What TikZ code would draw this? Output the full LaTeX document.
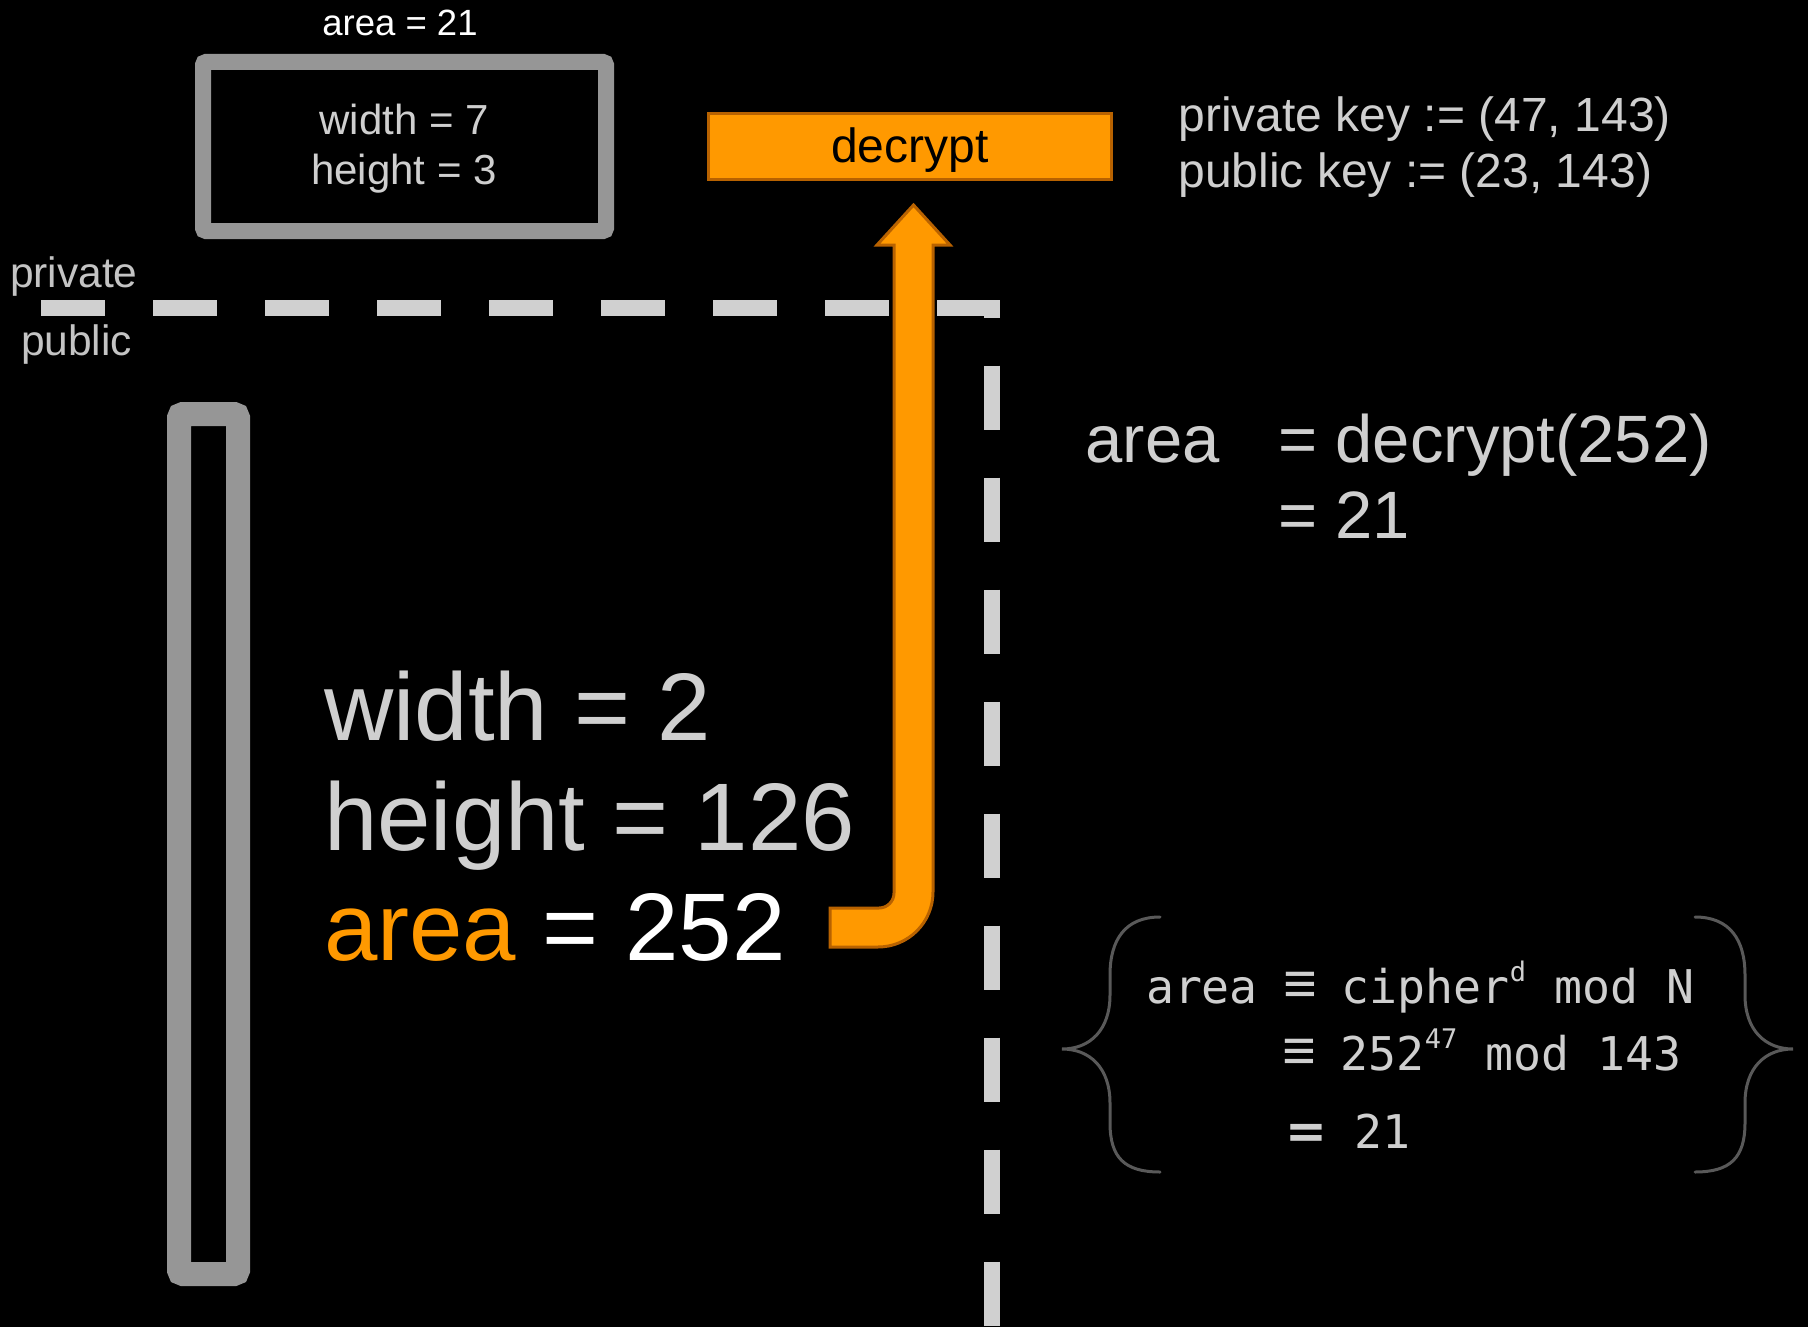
\documentclass[tikz,border=0pt]{standalone}
\usepackage{fontspec}
\setmainfont{Liberation Sans}
\newfontfamily\monofont{DejaVu Sans Mono}
\newfontfamily\symfont{DejaVu Sans}
\newfontfamily\thinsym{Liberation Sans}
\definecolor{lightgraytext}{HTML}{CFCFCF}
\definecolor{labelgray}{HTML}{C4C4C4}
\definecolor{framegray}{HTML}{969696}
\definecolor{dashgray}{HTML}{D0D0D0}
\definecolor{bracegray}{HTML}{595959}
\definecolor{amber}{HTML}{FF9900}
\definecolor{amberedge}{HTML}{B86200}
\newcommand{\fsz}[1]{\fontsize{#1}{#1}\selectfont}
\newcommand{\congsign}{\makebox[27.99pt]{\thinsym\fsz{58}≡}}
\begin{document}
\begin{tikzpicture}[x=1pt,y=-1pt,
  txt/.style={inner sep=0pt, outer sep=0pt, anchor=base west},
  ctxt/.style={inner sep=0pt, outer sep=0pt, anchor=base},
  frame/.style={draw=framegray, inner sep=0pt},
  boundary/.style={draw=dashgray, line width=16, dash pattern=on 64 off 48, line join=miter},
  blockarrow/.style={fill=amber, draw=amberedge, line width=3, line join=miter},
  brace/.style={draw=bracegray, line width=3, line cap=round}]

\useasboundingbox (0,0) rectangle (1808,1327);
\fill[black] (0,0) rectangle (1808,1327);

% private / public boundary
\draw[boundary] (41,308) -- (991.5,308) -- (991.5,1327);
\node[txt, text=labelgray, font=\fsz{42.5}] (lblpriv) at (10,287) {private};
\node[txt, text=labelgray, font=\fsz{42.5}] (lblpub) at (21,355) {public};

% original rectangle (private side)
\node[frame, line width=16, minimum width=403, minimum height=169, rounded corners=3] (privbox) at (404.5,146.5) {};
\node[ctxt, text=white, font=\fsz{36.5}] (privarea) at (400,36) {area = 21};
\node[ctxt, text=lightgraytext, font=\fsz{42}] (privw) at (404,135) {width = 7};
\node[ctxt, text=lightgraytext, font=\fsz{42}] (privh) at (404,185) {height = 3};

% transformed rectangle (public side)
\node[frame, line width=24, minimum width=59, minimum height=860, rounded corners=4] (pubbox) at (208.5,844) {};
\node[txt, text=lightgraytext, font=\fsz{96}] (pubw) at (324,740) {width = 2};
\node[txt, text=lightgraytext, font=\fsz{96}] (pubh) at (324,850) {height = 126};
\node[txt, text=white, font=\fsz{96}] (pubarea) at (324,960) {\textcolor{amber}{area} = 252};

% decrypt step
\node[draw=amberedge, fill=amber, line width=3, minimum width=403, minimum height=66,
      inner sep=0pt, text height=38, text depth=5, font=\fsz{48}] (dec) at (910,146.5) {decrypt};

% keys
\node[txt, text=lightgraytext, font=\fsz{48}] (privkey) at (1178.5,132) {private key := (47, 143)};
\node[txt, text=lightgraytext, font=\fsz{48}] (pubkey) at (1178.5,187) {public key := (23, 143)};

% bent arrow from the public area up to decrypt
\draw[blockarrow] (830,908) -- (879,908) .. controls (887.3,908) and (894,901.3) .. (894,893)
  -- (894,245) -- (877,245) -- (913.5,205) -- (950,245) -- (933,245) -- (933,892)
  .. controls (933,922.4) and (908.4,947) .. (878,947) -- (830,947) -- cycle;

% result
\node[txt, text=lightgraytext, font=\fsz{67}] (resarea) at (1085.5,462) {area};
\node[txt, text=lightgraytext, font=\fsz{67}] (resdec) at (1278,462) {= decrypt(252)};
\node[txt, text=lightgraytext, font=\fsz{67}] (resval) at (1278,538) {= 21};

% modular arithmetic
\node[txt, text=lightgraytext, font=\monofont\fsz{46.5}] (modA) at (1146,1003)
  {area \congsign{} cipher\raisebox{22pt}{\fsz{27}d} mod N};
\node[txt, text=lightgraytext, font=\monofont\fsz{46.5}] (modB) at (1285,1070)
  {\congsign{} 252\raisebox{22pt}{\fsz{27}47} mod 143};
\node[txt, text=lightgraytext, font=\monofont\fsz{46.5}] (modC) at (1285,1148)
  {{\symfont\bfseries\fsz{50}=} 21};

% braces around the arithmetic
\draw[brace] (1160,917) .. controls (1125,917) and (1110,940) .. (1110,975) -- (1110,995)
  .. controls (1110,1030) and (1090,1049) .. (1062,1049)
  .. controls (1090,1049) and (1110,1068) .. (1110,1103) -- (1110,1123)
  .. controls (1110,1158) and (1125,1172) .. (1160,1172);
\draw[brace] (1695,917) .. controls (1730,917) and (1745,940) .. (1745,975) -- (1745,995)
  .. controls (1745,1030) and (1765,1049) .. (1793,1049)
  .. controls (1765,1049) and (1745,1068) .. (1745,1103) -- (1745,1123)
  .. controls (1745,1158) and (1730,1172) .. (1695,1172);
\end{tikzpicture}
\end{document}
